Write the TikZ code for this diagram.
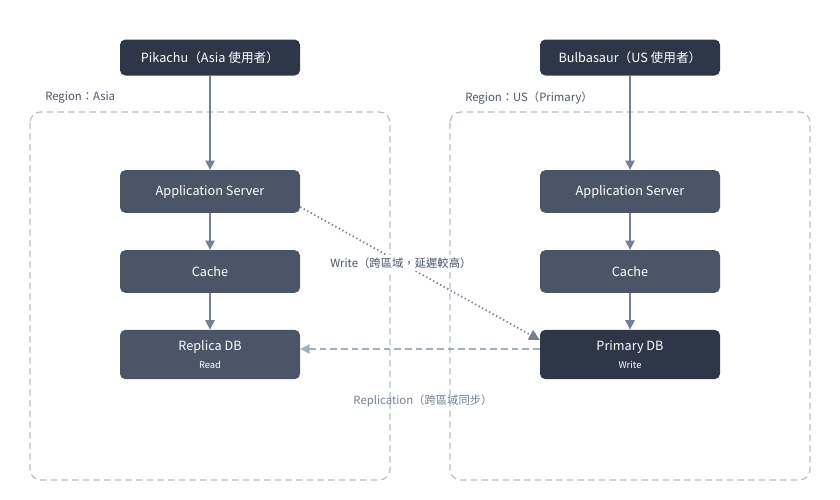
\documentclass[tikz,border=0pt]{standalone}
\usepackage{fontspec}
\setmainfont{Noto Sans CJK TC}
\usetikzlibrary{arrows.meta}
\definecolor{dk}{HTML}{2D3748}
\definecolor{md}{HTML}{4A5568}
\definecolor{ar}{HTML}{718096}
\definecolor{lt}{HTML}{A0AEC0}
\definecolor{rg}{HTML}{B4BFCC}
\tikzset{
 box/.style={rounded corners=4pt,draw=none,text=white,minimum width=135pt,font=\fontsize{9.5}{11}\selectfont,align=center,inner sep=0pt},
 top/.style={box,fill=dk,minimum height=27pt},
 mid/.style={box,fill=md,minimum height=32pt},
 db/.style={box,minimum height=37pt},
 region/.style={draw=rg,dashed,line width=0.9pt,rounded corners=8pt,dash pattern=on 5pt off 3pt},
 rlab/.style={text=md,font=\fontsize{8.5}{10}\selectfont,anchor=west,inner sep=0pt},
 arr/.style={draw=ar,line width=1pt,-{Triangle[length=7pt,width=7pt]}}
}
\newcommand{\tinytxt}{\fontsize{7}{8}\selectfont}
\begin{document}
\begin{tikzpicture}[x=0.75pt,y=-0.75pt]
\useasboundingbox (0,0) rectangle (840,500);
\draw[region] (30,112) rectangle (390,480);
\draw[region] (450,112) rectangle (810,480);
\node[rlab] (rla) at (45,98) {Region：Asia};
\node[rlab] (rlu) at (465,98) {Region：US（Primary）};
\node[top] (p) at (210,57.5) {Pikachu（Asia 使用者）};
\node[top] (b) at (630,57.5) {Bulbasaur（US 使用者）};
\node[mid] (a1) at (210,191.5) {Application Server};
\node[mid] (a2) at (630,191.5) {Application Server};
\node[mid] (c1) at (210,271.5) {Cache};
\node[mid] (c2) at (630,271.5) {Cache};
\node[db,fill=md] (r) at (210,354.5) {Replica DB\\[2pt]{\tinytxt Read}};
\node[db,fill=dk] (pd) at (630,354.5) {Primary DB\\[2pt]{\tinytxt Write}};
\draw[arr] (p) -- (a1);
\draw[arr] (a1) -- (c1);
\draw[arr] (c1) -- (r);
\draw[arr] (b) -- (a2);
\draw[arr] (a2) -- (c2);
\draw[arr] (c2) -- (pd);
\draw[arr,dotted,line width=1.3pt,-{Triangle[length=8pt,width=8pt]}] (a1.east |- 0,207) -- (pd.north west|- 0,340) node[pos=0.42,fill=white,text=md,font=\fontsize{8.5}{10}\selectfont,inner sep=2pt] (wl) {Write（跨區域，延遲較高）};
\draw[draw=lt,line width=1pt,dashed,dash pattern=on 5pt off 3pt,-{Triangle[length=7pt,width=7pt]}] (pd.west |- 0,349) -- (r.east |- 0,349);
\node[text=ar,font=\fontsize{8.5}{10}\selectfont] (rl) at (423,401) {Replication（跨區域同步）};
\end{tikzpicture}
\end{document}
